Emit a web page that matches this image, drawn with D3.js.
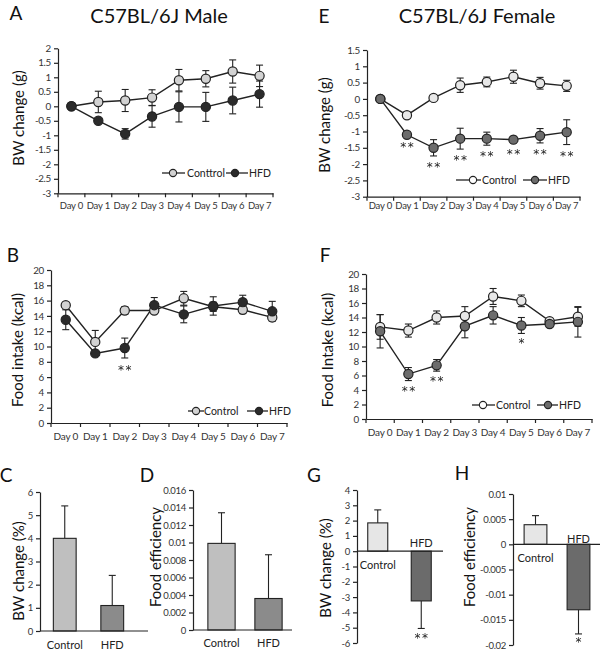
<!DOCTYPE html>
<html><head><meta charset="utf-8">
<script src="https://cdn.jsdelivr.net/npm/d3@7"></script>
<style>
body{margin:0;background:#fff;}
svg{display:block;font-family:Lato,"Open Sans",sans-serif;}
</style></head><body>
<svg id="chart" width="600" height="651"></svg>
<script>
// ---------- DATA ----------
const days = ["Day 0","Day 1","Day 2","Day 3","Day 4","Day 5","Day 6","Day 7"];

// A: male BW change (g)
const maleBWControl    = [0, 0.15, 0.2, 0.3, 0.9, 0.95, 1.2, 1.05];
const maleBWControlErr = [0, 0.37, 0.38, 0.27, 0.37, 0.28, 0.4, 0.37];
const maleBWHFD        = [0, -0.5, -0.95, -0.35, -0.02, -0.02, 0.2, 0.42];
const maleBWHFDErr     = [0, 0.04, 0.18, 0.37, 0.52, 0.5, 0.46, 0.45];
const maleBWTicks      = [2, 1.5, 1, 0.5, 0, -0.5, -1, -1.5, -2, -2.5, -3];

// B: male food intake (kcal)
const maleFIControl    = [15.4, 10.6, 14.7, 14.7, 16.3, 15.2, 14.8, 13.8];
const maleFIControlErr = [0.3, 1.5, 0.5, 0.4, 0.9, 0.6, 0.5, 0.4];
const maleFIHFD        = [13.5, 9.1, 9.8, 15.4, 14.2, 15.3, 15.8, 14.6];
const maleFIHFDErr     = [1.3, 0.2, 1.3, 1.0, 1.1, 1.2, 0.9, 1.3];
const maleFIStars      = ["", "", "**", "", "", "", "", ""];
const intakeTicks      = [0, 2, 4, 6, 8, 10, 12, 14, 16, 18, 20];

// E: female BW change (g)
const femBWControl     = [0, -0.5, 0.03, 0.42, 0.52, 0.68, 0.48, 0.4];
const femBWControlErr  = [0, 0.1, 0.07, 0.22, 0.15, 0.2, 0.18, 0.17];
const femBWHFD         = [0, -1.1, -1.5, -1.22, -1.22, -1.25, -1.13, -1.02];
const femBWHFDErr      = [0, 0.05, 0.25, 0.32, 0.2, 0.1, 0.22, 0.38];
const femBWStars       = ["", "**", "**", "**", "**", "**", "**", "**"];
const femBWTicks       = [1.5, 1, 0.5, 0, -0.5, -1, -1.5, -2, -2.5, -3];

// F: female food intake (kcal)
const femFIControl     = [12.7, 12.2, 14.0, 14.2, 16.9, 16.3, 13.5, 14.1];
const femFIControlErr  = [1.7, 0.9, 0.9, 1.3, 1.1, 0.8, 0.3, 1.3];
const femFIHFD         = [12.1, 6.2, 7.4, 12.8, 14.3, 12.9, 13.1, 13.4];
const femFIHFDErr      = [2.3, 0.9, 0.8, 1.6, 1.2, 1.1, 0.4, 2.1];
const femFIStars       = ["", "**", "**", "", "", "*", "", ""];

// Bars
const groups = ["Control", "HFD"];
const maleBWPct        = [4.0, 1.1];
const maleBWPctErr     = [1.4, 1.3];
const maleBWPctTicks   = [0, 1, 2, 3, 4, 5, 6];
const maleEff          = [0.0099, 0.0036];
const maleEffErr       = [0.0035, 0.005];
const maleEffTicks     = [0, 0.002, 0.004, 0.006, 0.008, 0.01, 0.012, 0.014, 0.016];
const femBWPct         = [1.85, -3.25];
const femBWPctErr      = [0.85, 1.8];
const femBWPctStars    = ["", "**"];
const femBWPctTicks    = [4, 3, 2, 1, 0, -1, -2, -3, -4, -5, -6];
const femEff           = [0.0039, -0.013];
const femEffErr        = [0.0018, 0.0048];
const femEffStars      = ["", "*"];
const femEffTicks      = [0.01, 0.005, 0, -0.005, -0.01, -0.015, -0.02];

// ---------- DRAW ----------
const svg = d3.select("#chart");
const INK = "#222";
const TICKC = "#333";
svg.append("defs").append("filter").attr("id", "gray").attr("x", "-20%").attr("y", "-20%").attr("width", "140%").attr("height", "140%")
  .append("feColorMatrix").attr("type", "saturate").attr("values", 0);
let starG = null;
const starLayer = () => (starG = starG || svg.append("g").attr("filter", "url(#gray)"));

function text(x, y, s, size, opts = {}) {
  const parent = opts.parent || svg;
  const t = parent.append("text").attr("x", x).attr("y", y).text(s)
    .attr("font-size", size).attr("fill", opts.fill || "#111")
    .attr("text-anchor", opts.anchor || "middle");
  if (opts.rotate) t.attr("transform", `rotate(-90,${x},${y})`);
  if (opts.baseline) t.attr("dominant-baseline", opts.baseline);
  return t;
}

function star(x, y, s) {
  return text(x, y, s, 12, {fill: "#222", parent: starLayer()}).attr("font-family", "DejaVu Sans,sans-serif")
    .attr("letter-spacing", 1.5).attr("dx", 0.75);
}

function yAxis(y, x, ticks, fs) {
  const g = svg.append("g").attr("transform", `translate(${x},0)`);
  g.call(d3.axisLeft(y).tickValues(ticks).tickSize(4).tickSizeOuter(0).tickPadding(3).tickFormat(d => String(d)));
  g.select(".domain").attr("stroke", INK).attr("stroke-width", 1.2);
  g.selectAll(".tick line").attr("stroke", INK).attr("stroke-width", 1.2);
  g.selectAll(".tick text").attr("font-size", fs || 9.8).attr("fill", TICKC).attr("font-family", "Lato,sans-serif").attr("letter-spacing", -0.3);
  return g;
}

function linePanel(cfg) {
  const x = d3.scaleBand().domain(days).range([cfg.x0, cfg.x1]);
  const y = d3.scaleLinear().domain(cfg.domain).range([cfg.yb, cfg.yt]);
  yAxis(y, cfg.x0, cfg.ticks);
  const gx = svg.append("g").attr("transform", `translate(0,${cfg.yb})`);
  gx.call(d3.axisBottom(x).tickSize(0).tickPadding(cfg.dayPad).tickSizeOuter(0));
  gx.select(".domain").attr("stroke", INK).attr("stroke-width", 1.2);
  gx.selectAll(".tick text").attr("font-size", cfg.dayFont).attr("fill", TICKC).attr("font-family", "Lato,sans-serif").attr("letter-spacing", -0.2);
  const edges = days.map(d => x(d)).concat([cfg.x1]);
  gx.selectAll("line.edge").data(edges).enter().append("line")
    .attr("x1", d => d).attr("x2", d => d).attr("y1", 0).attr("y2", 4)
    .attr("stroke", INK).attr("stroke-width", 1.2);

  const cx = d => x(d) + x.bandwidth() / 2;
  cfg.series.forEach(s => {
    const g = svg.append("g");
    days.forEach((d, i) => {
      const e = s.err[i];
      if (!e) return;
      const x0 = cx(d), ya = y(s.vals[i] + e), yb = y(s.vals[i] - e);
      g.append("line").attr("x1", x0).attr("x2", x0).attr("y1", ya).attr("y2", yb).attr("stroke", INK).attr("stroke-width", 1.1);
      [ya, yb].forEach(yy => g.append("line").attr("x1", x0 - 3.5).attr("x2", x0 + 3.5).attr("y1", yy).attr("y2", yy).attr("stroke", INK).attr("stroke-width", 1.1));
    });
  });
  cfg.series.forEach(s => {
    const line = d3.line().x((v, i) => cx(days[i])).y(v => y(v));
    svg.append("path").attr("d", line(s.vals)).attr("fill", "none").attr("stroke", INK).attr("stroke-width", 1.4);
  });
  cfg.series.forEach(s => {
    svg.append("g").selectAll("circle").data(s.vals).enter().append("circle")
      .attr("cx", (v, i) => cx(days[i])).attr("cy", v => y(v)).attr("r", 4.6)
      .attr("fill", s.fill).attr("stroke", INK).attr("stroke-width", 1.2);
  });
  if (cfg.stars) {
    const h = cfg.series[1];
    cfg.stars.forEach((st, i) => {
      if (!st) return;
      star(cx(days[i]), y(h.vals[i] - h.err[i]) + cfg.starOff, st);
    });
  }
  cfg.legend.forEach(l => {
    svg.append("line").attr("x1", l.l0).attr("x2", l.l1).attr("y1", cfg.ly).attr("y2", cfg.ly).attr("stroke", INK).attr("stroke-width", 1.3);
    svg.append("circle").attr("cx", l.c).attr("cy", cfg.ly).attr("r", 3.6).attr("fill", l.fill).attr("stroke", INK).attr("stroke-width", 1.1);
    text(l.t, cfg.ly, l.label, 10.5, {anchor: "start", baseline: "central", fill: "#222"});
  });
}

// Titles and panel letters
text(159, 23, "C57BL/6J Male", 20, {fill: "#111"});
text(477, 23, "C57BL/6J Female", 20, {fill: "#111"});
[["A", 16, 20], ["E", 324, 23], ["B", 13, 262], ["F", 325, 262], ["C", 6, 482], ["D", 147, 482], ["G", 314, 482], ["H", 462, 480]]
  .forEach(([s, x, y]) => text(x, y, s, 19, {fill: "#111"}));

// A
linePanel({
  x0: 58, x1: 273, yt: 48.3, yb: 193.3, domain: [-3, 2], ticks: maleBWTicks, dayPad: 9, dayFont: 9.5,
  series: [{vals: maleBWControl, err: maleBWControlErr, fill: "#d2d2d2"}, {vals: maleBWHFD, err: maleBWHFDErr, fill: "#2b2b2b"}],
  ly: 173, legend: [{l0: 162, l1: 185, c: 173, t: 187, label: "Conttrol", fill: "#d2d2d2"}, {l0: 226, l1: 248, c: 235, t: 249, label: "HFD", fill: "#2b2b2b"}]
});
text(24, 118, "BW change (g)", 15, {rotate: true, fill: "#111"});

// E
linePanel({
  x0: 367, x1: 580, yt: 50, yb: 196.7, domain: [-3, 1.5], ticks: femBWTicks, dayPad: 6, dayFont: 9.5,
  series: [{vals: femBWControl, err: femBWControlErr, fill: "#e8e8e8"}, {vals: femBWHFD, err: femBWHFDErr, fill: "#6c6c6c"}],
  stars: femBWStars, starOff: 15,
  ly: 180, legend: [{l0: 456, l1: 481, c: 473, t: 482, label: "Control", fill: "#ffffff"}, {l0: 523, l1: 547, c: 535, t: 548, label: "HFD", fill: "#6c6c6c"}]
});
text(330, 125, "BW change (g)", 15, {rotate: true, fill: "#111"});

// B
linePanel({
  x0: 51, x1: 287, yt: 270, yb: 423, domain: [0, 20], ticks: intakeTicks, dayPad: 10, dayFont: 10,
  series: [{vals: maleFIControl, err: maleFIControlErr, fill: "#d2d2d2"}, {vals: maleFIHFD, err: maleFIHFDErr, fill: "#2b2b2b"}],
  stars: maleFIStars, starOff: 16,
  ly: 411, legend: [{l0: 188, l1: 204, c: 196, t: 204, label: "Control", fill: "#d2d2d2"}, {l0: 247, l1: 268, c: 259, t: 269, label: "HFD", fill: "#2b2b2b"}]
});
text(23, 350, "Food intake (kcal)", 15, {rotate: true, fill: "#111"});

// F
linePanel({
  x0: 366, x1: 592, yt: 274, yb: 419, domain: [0, 20], ticks: intakeTicks, dayPad: 10, dayFont: 10,
  series: [{vals: femFIControl, err: femFIControlErr, fill: "#e8e8e8"}, {vals: femFIHFD, err: femFIHFDErr, fill: "#6c6c6c"}],
  stars: femFIStars, starOff: 14,
  ly: 405, legend: [{l0: 472, l1: 495, c: 483, t: 496, label: "Control", fill: "#ffffff"}, {l0: 537, l1: 558, c: 548, t: 559, label: "HFD", fill: "#6c6c6c"}]
});
text(333, 350, "Food Intake (kcal)", 15, {rotate: true, fill: "#111"});

// Bar panels
function barPanel(cfg) {
  const x = d3.scaleBand().domain(groups).range([cfg.b0, cfg.b1]).paddingInner(cfg.pad).paddingOuter(cfg.pad / 2);
  const y = d3.scaleLinear().domain(cfg.domain).range([cfg.yb, cfg.yt]);
  yAxis(y, cfg.x0, cfg.ticks, 9.5);
  const y0 = y(0);
  groups.forEach((gname, i) => {
    const v = cfg.vals[i], e = cfg.err[i];
    const bx = x(gname), bw = x.bandwidth(), cx = bx + bw / 2;
    const yEnd = v >= 0 ? y(v + e) : y(v - e);
    svg.append("line").attr("x1", cx).attr("x2", cx).attr("y1", y(v)).attr("y2", yEnd).attr("stroke", INK).attr("stroke-width", 1.1);
    svg.append("line").attr("x1", cx - 3.5).attr("x2", cx + 3.5).attr("y1", yEnd).attr("y2", yEnd).attr("stroke", INK).attr("stroke-width", 1.1);
    svg.append("rect").attr("x", bx).attr("width", bw)
      .attr("y", Math.min(y(v), y0)).attr("height", Math.abs(y(v) - y0))
      .attr("fill", cfg.fills[i]).attr("stroke", INK).attr("stroke-width", 1.1);
    if (cfg.stars && cfg.stars[i]) star(cx, yEnd + cfg.starOff, cfg.stars[i]);
    text(cx, cfg.labelPos[i], gname, 11, {fill: "#222"});
  });
  svg.append("line").attr("x1", cfg.x0).attr("x2", cfg.xEnd).attr("y1", y0).attr("y2", y0).attr("stroke", INK).attr("stroke-width", 1.2);
}

barPanel({x0: 40, xEnd: 148, b0: 41, b1: 136, pad: 0.52, yt: 492, yb: 631, domain: [0, 6], ticks: maleBWPctTicks,
  vals: maleBWPct, err: maleBWPctErr, fills: ["#bfbfbf", "#8b8b8b"], labelPos: [649, 649]});
text(24, 571, "BW change (%)", 15, {rotate: true, fill: "#111"});

barPanel({x0: 193, xEnd: 292, b0: 198, b1: 292, pad: 0.42, yt: 490, yb: 630, domain: [0, 0.016], ticks: maleEffTicks,
  vals: maleEff, err: maleEffErr, fills: ["#bfbfbf", "#8b8b8b"], labelPos: [647, 647]});
text(161, 557, "Food efficiency", 15, {rotate: true, fill: "#111"});

barPanel({x0: 357, xEnd: 443, b0: 356, b1: 443, pad: 0.54, yt: 490, yb: 643, domain: [-6, 4], ticks: femBWPctTicks,
  vals: femBWPct, err: femBWPctErr, fills: ["#e6e6e6", "#6b6b6b"], labelPos: [569, 547],
  stars: femBWPctStars, starOff: 14});
text(331, 568, "BW change (%)", 15, {rotate: true, fill: "#111"});

barPanel({x0: 513, xEnd: 600, b0: 514, b1: 600, pad: 0.47, yt: 494, yb: 645, domain: [-0.02, 0.01], ticks: femEffTicks,
  vals: femEff, err: femEffErr, fills: ["#e6e6e6", "#6b6b6b"], labelPos: [562, 543],
  stars: femEffStars, starOff: 12});
text(475, 557, "Food efficiency", 15, {rotate: true, fill: "#111"});
</script>
</body></html>
